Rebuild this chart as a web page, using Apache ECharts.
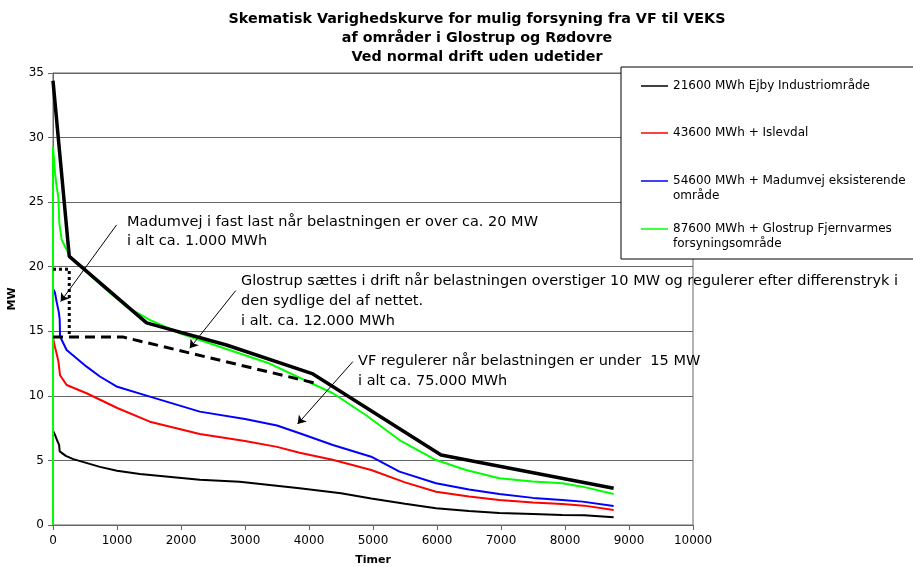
<!DOCTYPE html>
<html>
<head>
<meta charset="utf-8">
<script src="https://cdn.jsdelivr.net/npm/echarts@6/dist/echarts.min.js"></script>
<style>
	html, body { margin: 0; padding: 0; background: #fff; }
	#chart { width: 913px; height: 567px; }
</style>
</head>
<body>
<div id="chart"></div>
<script>
// varighedskurver (timer / MW)
var seriesNames = [
	'21600 MWh Ejby Industriområde',
	'43600 MWh + Islevdal',
	'54600 MWh + Madumvej eksisterende\nområde',
	'87600 MWh + Glostrup Fjernvarmes\nforsyningsområde'
];
var seriesColors = ['#000000', '#ff0000', '#0000ff', '#00ff00'];

var ejbyHours = [0, 30, 60, 95, 105, 200, 317, 733, 1000, 1357, 2293, 2917, 3853, 4500, 4972, 5500, 5985, 6500, 6973, 7500, 7956, 8300, 8760];
var ejbyMW    = [7.3, 7.0, 6.6, 6.2, 5.7, 5.35, 5.1, 4.5, 4.2, 3.95, 3.5, 3.35, 2.84, 2.45, 2.05, 1.65, 1.3, 1.08, 0.92, 0.85, 0.78, 0.75, 0.6];

var islevHours = [0, 30, 60, 85, 110, 213, 525, 1004, 1513, 2293, 3000, 3500, 3853, 4368, 4972, 5500, 5985, 6500, 6973, 7500, 7956, 8300, 8760];
var islevMW    = [14.5, 13.8, 13.2, 12.65, 11.6, 10.84, 10.2, 9.06, 8.0, 7.05, 6.5, 6.05, 5.6, 5.05, 4.26, 3.3, 2.58, 2.2, 1.94, 1.75, 1.63, 1.5, 1.16];

var madumHours = [0, 30, 60, 90, 105, 110, 213, 525, 733, 1004, 1513, 2293, 3000, 3500, 3853, 4373, 4972, 5413, 5985, 6500, 6973, 7500, 7956, 8273, 8760];
var madumMW    = [18.3, 18.0, 17.2, 16.5, 15.9, 14.6, 13.55, 12.26, 11.5, 10.7, 9.94, 8.78, 8.2, 7.7, 7.1, 6.2, 5.29, 4.13, 3.23, 2.75, 2.4, 2.1, 1.94, 1.81, 1.47];

var glosHours = [0, 0, 31, 57, 83, 99, 135, 239, 265, 525, 837, 1150, 1513, 1981, 2605, 3385, 3853, 4373, 4893, 5413, 5985, 6454, 6973, 7493, 7956, 8273, 8760];
var glosMW    = [0, 29.3, 27.3, 26.2, 25.4, 23.4, 22.1, 21.05, 20.8, 19.6, 18.2, 16.9, 15.88, 14.85, 13.8, 12.5, 11.4, 10.2, 8.5, 6.58, 5.03, 4.26, 3.62, 3.36, 3.23, 2.97, 2.4];

// skitserede linjer
var envHours = [0, 254, 1462, 2710, 4061, 6064, 8760];
var envMW    = [34.4, 20.8, 15.65, 13.94, 11.7, 5.42, 2.84];
var glosRegHours = [0, 1100, 4130];
var glosRegMW    = [14.55, 14.55, 10.95];
var madumFastHours = [0, 254, 254];
var madumFastMW    = [19.8, 19.8, 14.6];

// pile (fra, til) i timer / MW
var arrowFrom = [[994, 23.24], [2855, 18.15], [4685, 12.65]];
var arrowTo   = [[120, 17.3], [2137, 13.69], [3822, 7.82]];

var xTicks = {min: 0, max: 10000, interval: 1000};
var yTicks = {min: 0, max: 35, interval: 5};

var font = 'DejaVu Sans';

function pairs(hs, vs) {
	return hs.map(function (h, i) { return [h, vs[i]]; });
}

var curves = [
	pairs(ejbyHours, ejbyMW),
	pairs(islevHours, islevMW),
	pairs(madumHours, madumMW),
	pairs(glosHours, glosMW)
];

var chart = echarts.init(document.getElementById('chart'));

var series = curves.map(function (d, i) {
	return {
		name: seriesNames[i],
		type: 'line',
		data: d,
		symbol: 'none',
		lineStyle: {color: seriesColors[i], width: 2},
		itemStyle: {color: seriesColors[i]},
		animation: false,
		z: 2
	};
});

series.push({
	type: 'line', data: pairs(envHours, envMW), symbol: 'none', animation: false, z: 3,
	lineStyle: {color: '#000', width: 3.5}
});
series.push({
	type: 'line', data: pairs(glosRegHours, glosRegMW), symbol: 'none', animation: false, z: 3,
	lineStyle: {color: '#000', width: 3, type: [10, 6]}
});
series.push({
	type: 'line', data: pairs(madumFastHours, madumFastMW), symbol: 'none', animation: false, z: 3,
	lineStyle: {color: '#000', width: 3, type: [3, 3]}
});
series.push({
	type: 'lines',
	coordinateSystem: 'cartesian2d',
	symbol: ['none', 'arrow'],
	symbolSize: 8,
	lineStyle: {color: '#000', width: 1, opacity: 1},
	animation: false,
	z: 4,
	data: arrowFrom.map(function (f, i) { return {coords: [f, arrowTo[i]]}; })
});

// tom første linje, så stregen flugter med første tekstlinje
function legendFor(i, top) {
	return {
		data: [seriesNames[i]],
		orient: 'vertical',
		left: 641,
		top: top,
		padding: 0,
		icon: 'rect',
		itemWidth: 27,
		itemHeight: 1.5,
		selectedMode: false,
		formatter: function (name) {
			return name.indexOf('\n') >= 0 ? '\n' + name : name;
		},
		textStyle: {fontFamily: font, fontSize: 12, color: '#000', lineHeight: 15}
	};
}

var option = {
	backgroundColor: '#fff',
	animation: false,
	grid: {
		left: 53, right: 220, top: 73, bottom: 42,
		outerBoundsMode: 'none',
		containLabel: false,
		show: true, borderColor: '#666', borderWidth: 1
	},
	legend: [
		legendFor(0, 78.5),
		legendFor(1, 125.5),
		legendFor(2, 158.5),
		legendFor(3, 206.5)
	],
	xAxis: {
		type: 'value',
		min: xTicks.min, max: xTicks.max, interval: xTicks.interval,
		name: 'Timer',
		nameLocation: 'middle',
		nameGap: 30,
		nameTextStyle: {fontFamily: font, fontSize: 11, fontWeight: 'bold', color: '#000'},
		axisLine: {show: true, lineStyle: {color: '#666'}},
		axisTick: {show: true, length: 5, lineStyle: {color: '#666'}},
		axisLabel: {
			fontFamily: font, fontSize: 12, color: '#000', margin: 10,
			formatter: function (v) { return String(v); }
		},
		splitLine: {show: false}
	},
	yAxis: {
		type: 'value',
		min: yTicks.min, max: yTicks.max, interval: yTicks.interval,
		name: 'MW',
		nameLocation: 'middle',
		nameGap: 31,
		nameTextStyle: {fontFamily: font, fontSize: 11, fontWeight: 'bold', color: '#000'},
		axisLine: {show: true, lineStyle: {color: '#666'}},
		axisTick: {show: true, length: 5, lineStyle: {color: '#666'}},
		axisLabel: {fontFamily: font, fontSize: 12, color: '#000', margin: 9},
		splitLine: {show: true, lineStyle: {color: '#666', width: 1}}
	},
	graphic: [
		{
			type: 'text', x: 477, y: 10, z: 5,
			style: {
				text: 'Skematisk Varighedskurve for mulig forsyning fra VF til VEKS\naf områder i Glostrup og Rødovre\nVed normal drift uden udetider',
				font: 'bold 14.3px "DejaVu Sans"', fill: '#000',
				textAlign: 'center', textVerticalAlign: 'top', lineHeight: 19
			}
		},
		{
			type: 'rect', z: 3,
			shape: {x: 621, y: 67, width: 320, height: 192},
			style: {fill: '#fff', stroke: '#000', lineWidth: 1}
		},
		{
			type: 'text', x: 127, y: 212, z: 5,
			style: {
				text: 'Madumvej i fast last når belastningen er over ca. 20 MW\ni alt ca. 1.000 MWh',
				font: '14.5px "DejaVu Sans"', fill: '#000', textVerticalAlign: 'top', lineHeight: 19.5
			}
		},
		{
			type: 'text', x: 241, y: 271, z: 5,
			style: {
				text: 'Glostrup sættes i drift når belastningen overstiger 10 MW og regulerer efter differenstryk i\nden sydlige del af nettet.\ni alt. ca. 12.000 MWh',
				font: '14.5px "DejaVu Sans"', fill: '#000', textVerticalAlign: 'top', lineHeight: 20
			}
		},
		{
			type: 'text', x: 358, y: 351, z: 5,
			style: {
				text: 'VF regulerer når belastningen er under  15 MW\ni alt ca. 75.000 MWh',
				font: '14.5px "DejaVu Sans"', fill: '#000', textVerticalAlign: 'top', lineHeight: 20
			}
		}
	],
	series: series
};

chart.setOption(option);
</script>
</body>
</html>
